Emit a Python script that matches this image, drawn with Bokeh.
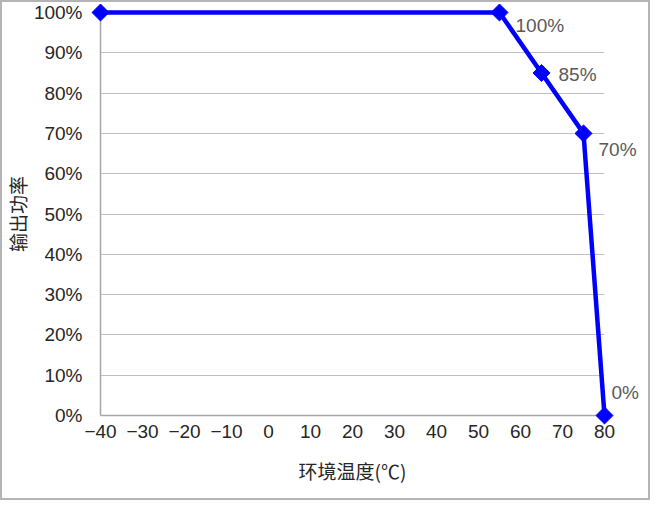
import math
from bokeh.plotting import figure
from bokeh.models import ColumnDataSource, FixedTicker, NumeralTickFormatter, Range1d
from bokeh.core.properties import value
from bokeh.embed import file_html
from bokeh.resources import INLINE

# data
temps = [-40, 55, 65, 75, 80]
power = [1.00, 1.00, 0.85, 0.70, 0.00]
point_labels = ["", "100%", "85%", "70%", "0%"]
x_ticks = [-40, -30, -20, -10, 0, 10, 20, 30, 40, 50, 60, 70, 80]
y_ticks = [0.0, 0.1, 0.2, 0.3, 0.4, 0.5, 0.6, 0.7, 0.8, 0.9, 1.0]
x_title = "环境温度(℃)"
y_title = "输出功率"

p = figure(width=650, height=500, output_backend="svg", toolbar_location=None,
           x_range=Range1d(-40, 80), y_range=Range1d(0, 1),
           min_border_left=99, min_border_right=46, min_border_top=12, min_border_bottom=85)
p.styles = {"outline": "2px solid #b4b4b4", "outline-offset": "-2px",
            "background-color": "white"}
p.border_fill_alpha = 0
p.outline_line_color = None
p.background_fill_color = "white"

# axes
p.xaxis.ticker = FixedTicker(ticks=x_ticks)
p.xaxis.major_label_overrides = {t: (("\u2212" + str(-t)) if t < 0 else str(t)) for t in x_ticks}
p.yaxis.ticker = FixedTicker(ticks=y_ticks)
p.yaxis.formatter = NumeralTickFormatter(format="0%")
for ax in (p.xaxis, p.yaxis):
    ax.major_tick_line_color = None
    ax.minor_tick_line_color = None
    ax.axis_line_color = "#a6a6a6"
    ax.axis_line_width = 1.5
    ax.major_label_text_font = "Liberation Sans"
    ax.major_label_text_font_size = "19px"
    ax.major_label_text_color = "#262626"
    ax.axis_label_text_font = "Noto Sans CJK SC"
    ax.axis_label_text_font_size = "19px"
    ax.axis_label_text_font_style = "normal"
    ax.axis_label_text_color = "#262626"
p.xaxis.major_label_standoff = 3
p.yaxis.major_label_standoff = 12
p.xaxis.axis_label = x_title
p.yaxis.axis_label = y_title
p.xaxis.axis_label_standoff = 16
p.yaxis.axis_label_standoff = 0

p.xgrid.grid_line_color = None
p.ygrid.grid_line_color = "#c0c0c0"
p.ygrid.grid_line_width = 1.2

src = ColumnDataSource(dict(x=temps, y=power, label=point_labels,
                            dx=[0, 16, 17, 15, 7], dy=[0, 13, 2, 16, -23]))
p.line("x", "y", source=src, line_color="#0000ff", line_width=4.5, level="overlay")
p.scatter("x", "y", source=src, marker="square", angle=math.pi / 4, size=12,
          fill_color="#0000ff", line_color="#0000ff", level="overlay")
p.text("x", "y", text="label", source=src, x_offset="dx", y_offset="dy",
       text_font=value("Liberation Sans"), text_font_size="19px", text_color="#595959",
       text_align="left", text_baseline="middle", level="overlay")

open("out.html", "w").write(file_html(p, INLINE))
